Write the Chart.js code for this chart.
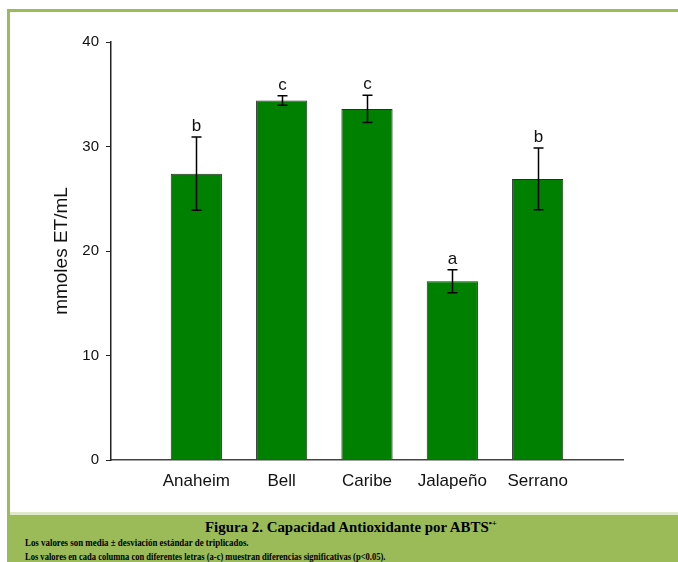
<!DOCTYPE html>
<html>
<head>
<meta charset="utf-8">
<script src="https://cdn.jsdelivr.net/npm/chart.js@4"></script>
<style>
  body { margin: 0; width: 678px; height: 562px; overflow: hidden; background: #fff; position: relative; }
  #frame { position: absolute; left: 7px; top: 9px; width: 720px; height: 600px; border: 3px solid #9bbb59; box-sizing: border-box; }
  #sep { position: absolute; left: 10px; top: 512px; width: 668px; height: 3px; background: #dfe9c9; }
  #band { position: absolute; left: 8px; top: 515px; width: 670px; height: 47px; background: #9bbb59; }
  #wrap { position: absolute; left: 0; top: 0; width: 678px; height: 515px; }
  .cap { position: absolute; white-space: nowrap; font-family: "Liberation Serif", serif; font-weight: bold; color: #000; transform-origin: 0 50%; }
  #capTitle { left: 205px; top: 518px; font-size: 15px; line-height: 18px; }
  #capTitle sup { font-size: 9px; vertical-align: 6px; line-height: 0; }
  #cap1 { left: 25px; top: 537px; font-size: 10px; line-height: 12px; }
  #cap2 { left: 25px; top: 551px; font-size: 10px; line-height: 12px; }
</style>
</head>
<body>
<div id="frame"></div>
<div id="sep"></div>
<div id="band"></div>
<div class="cap" id="capTitle" data-w="292">Figura 2. Capacidad Antioxidante por ABTS<sup>•+</sup></div>
<div class="cap" id="cap1" data-w="224">Los valores son media ± desviación estándar de triplicados.</div>
<div class="cap" id="cap2" data-w="360">Los valores en cada columna con diferentes letras (a-c) muestran diferencias significativas (p&lt;0.05).</div>
<div id="wrap"><canvas id="chart"></canvas></div>
<script>
// chart values
const cultivars = ["Anaheim", "Bell", "Caribe", "Jalapeño", "Serrano"];
const means = [27.4, 34.4, 33.6, 17.1, 26.9];
const errors = [3.5, 0.45, 1.3, 1.1, 2.95];
const letters = ["b", "c", "c", "a", "b"];
const yTicks = [0, 10, 20, 30, 40];

// squeeze caption lines to their width in the figure
document.querySelectorAll(".cap").forEach(el => {
    const w = el.offsetWidth;
    el.style.transform = `scaleX(${el.dataset.w / w})`;
});

// empty slots at both ends so bars sit between axis start and end
const labels = ["", ...cultivars, ""];
const values = [null, ...means, null];

const errorBars = {
    id: "errorBars",
    afterDatasetsDraw(chart) {
        const ctx = chart.ctx;
        const y = chart.scales.y;
        const meta = chart.getDatasetMeta(0);
        ctx.save();
        ctx.strokeStyle = "#000";
        ctx.lineWidth = 1.5;
        ctx.fillStyle = "#111";
        ctx.font = "17px 'Liberation Sans', Arial, sans-serif";
        ctx.textAlign = "center";
        ctx.textBaseline = "alphabetic";
        cultivars.forEach((c, i) => {
            const bar = meta.data[i + 1];
            const x = Math.round(bar.x) + 0.5;
            const top = y.getPixelForValue(means[i] + errors[i]);
            const bot = y.getPixelForValue(means[i] - errors[i]);
            ctx.beginPath();
            ctx.moveTo(x, top); ctx.lineTo(x, bot);
            ctx.moveTo(x - 5, top); ctx.lineTo(x + 5, top);
            ctx.moveTo(x - 5, bot); ctx.lineTo(x + 5, bot);
            ctx.stroke();
            ctx.fillText(letters[i], x, top - 6);
        });
        ctx.restore();
    }
};

new Chart(document.getElementById("chart"), {
    type: "bar",
    data: {
        labels: labels,
        datasets: [{
            data: values,
            backgroundColor: "#008000",
            borderColor: "#2b2b2b",
            borderWidth: 1,
            categoryPercentage: 1,
            barPercentage: 0.6
        }]
    },
    options: {
        responsive: true,
        maintainAspectRatio: false,
        animation: false,
        layout: { padding: { top: 42, right: 55, bottom: 0, left: 0 } },
        plugins: { legend: { display: false }, tooltip: { enabled: false } },
        scales: {
            x: {
                offset: false,
                grid: { display: false },
                border: { display: true, color: "#444", width: 1.5 },
                ticks: { color: "#111", padding: 3, maxRotation: 0, autoSkip: false,
                    font: { family: "'Liberation Sans', Arial, sans-serif", size: 17 } },
                afterFit: s => { s.height = 55; }
            },
            y: {
                min: 0, max: 40,
                afterBuildTicks: s => { s.ticks = yTicks.map(v => ({ value: v })); },
                grid: { drawOnChartArea: false, drawTicks: true, tickLength: 5, color: "#222" },
                border: { display: true, color: "#222", width: 1.5 },
                ticks: { color: "#111", padding: 7,
                    font: { family: "'Liberation Sans', Arial, sans-serif", size: 15 } },
                title: { display: true, text: "mmoles ET/mL", color: "#111",
                    padding: { top: 50, bottom: 0 },
                    font: { family: "'Liberation Sans', Arial, sans-serif", size: 19 } },
                afterFit: s => { s.width = 111; }
            }
        }
    },
    plugins: [errorBars]
});
</script>
</body>
</html>
